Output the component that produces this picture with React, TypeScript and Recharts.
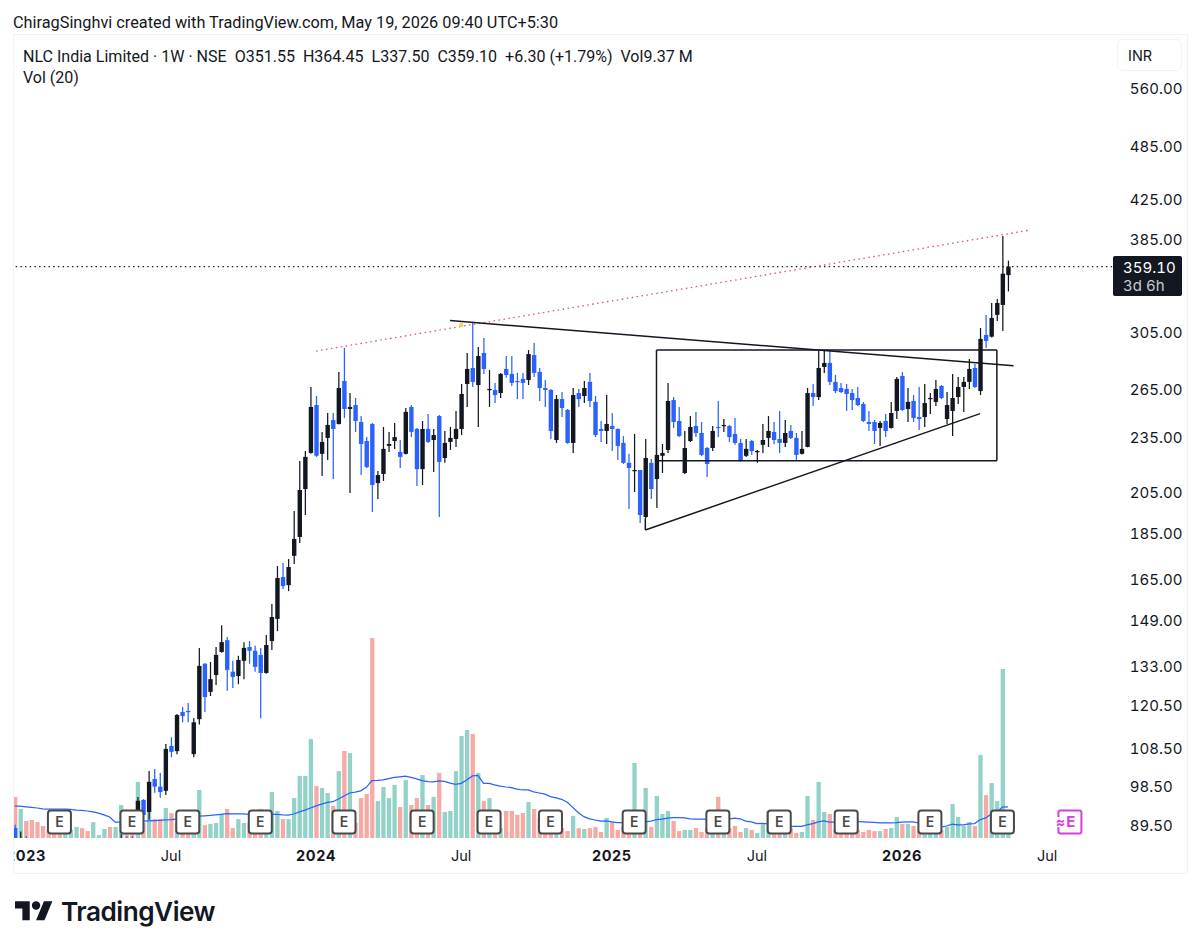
import { ComposedChart, Bar, Line, Cell, XAxis, YAxis, ReferenceLine, ReferenceDot } from "recharts";

const TOTAL_SLOTS = 198;

// weekly candles, the first 22 sit below the visible price range
const opens = [
  88.8, 83, 84, 80, 78, 77, 76, 75, 75, 73, 75, 76, 79, 77, 76, 79, 80, 82, 80, 83, 86, 85,
  89.5, 95.2, 92.4, 100.3, 98.4, 97.4, 108.9, 107.5, 118.5, 118.8,
  106.7, 116.4, 133.6, 124.6, 129.9, 137.6, 141.7, 131.0, 129.6, 134.6,
  139.3, 138.0, 136.6, 130.6, 141.4, 149.4, 165.8, 162.5, 174.8, 183.2,
  206.4, 225.8, 254.4, 225.3, 234.4, 245.1, 242.7, 270.1, 251.9, 254.4,
  243.9, 232.6, 242.7, 209.5, 214.3, 229.8, 232.6, 226.4, 225.3, 253.2,
  239.7, 216.9, 239.7, 233.2, 247.5, 223.0, 232.1, 233.8, 239.7, 268.1,
  279.0, 267.4, 289.6, 264.1, 264.1, 262.1, 278.3, 274.9, 270.1, 271.5,
  270.8, 288.1, 276.2, 265.4, 264.1, 233.2, 258.2, 251.3, 231.5, 262.1,
  260.2, 269.5, 256.4, 239.7, 238.5, 241.5, 239.7, 231.5, 220.3, 215.9,
  216.4, 192.5, 220.3, 211.6, 224.2, 227.5, 257.6, 244.5, 214.8, 232.6,
  241.5, 237.3, 228.6, 228.6, 240.9, 241.5, 241.5, 236.7, 231.5, 224.2,
  232.6, 226.4, 230.4, 234.4, 237.9, 233.8, 231.5, 238.5, 234.4, 225.3,
  229.2, 262.1, 259.5, 279.7, 282.5, 269.5, 265.4, 264.8, 262.1, 258.9,
  255.1, 243.9, 243.9, 240.3, 244.5, 240.3, 250.7, 273.5, 251.9, 257.0,
  246.9, 246.9, 258.2, 256.4, 266.8, 245.7, 250.7, 259.5, 266.1, 269.5,
  279.0, 263.4, 302.9, 301.6, 318.4, 326.4, 351.55,
];
const highs = [
  89.5, 88, 87, 82, 80, 79, 78, 78, 77, 77, 78, 80, 81, 79, 80, 81, 83, 84, 85, 87.4, 87, 87,
  95.9, 95.4, 102.3, 102.8, 101.8, 109.4, 111.3, 117.9, 120.0, 121.2,
  116.7, 139.0, 133.9, 134.2, 139.3, 147.1, 142.8, 134.6, 136.3, 141.0,
  141.4, 139.7, 139.0, 143.5, 155.0, 170.4, 171.7, 173.4, 195.4, 221.3,
  226.9, 266.1, 260.2, 237.9, 249.4, 249.4, 276.2, 293.2, 262.1, 258.9,
  247.5, 234.9, 243.3, 215.9, 240.9, 237.9, 243.3, 233.2, 252.5, 254.4,
  240.3, 244.5, 248.8, 239.7, 248.2, 238.5, 240.9, 250.7, 268.1, 289.6,
  312.0, 294.0, 300.6, 277.6, 268.8, 275.6, 287.4, 287.4, 275.6, 275.6,
  291.7, 296.9, 279.0, 270.8, 264.8, 260.8, 262.8, 251.9, 265.4, 264.8,
  270.1, 275.6, 260.2, 244.5, 260.8, 249.4, 240.0, 235.5, 225.3, 236.7,
  216.4, 233.8, 222.4, 224.7, 230.9, 268.8, 259.5, 253.2, 238.5, 247.5,
  250.1, 243.9, 229.2, 241.5, 257.0, 245.7, 242.1, 246.3, 233.8, 233.8,
  233.2, 227.5, 242.7, 247.5, 243.9, 250.7, 245.1, 242.1, 237.3, 238.5,
  265.4, 268.1, 291.0, 291.0, 291.7, 274.2, 268.8, 268.1, 264.8, 266.1,
  256.4, 250.7, 245.1, 244.5, 248.8, 256.4, 272.8, 276.2, 265.4, 260.8,
  266.1, 268.1, 262.1, 270.8, 267.4, 262.8, 274.9, 272.8, 272.8, 285.3,
  281.8, 308.2, 318.4, 328.0, 331.2, 387.5, 364.45,
];
const lows = [
  83, 81, 80, 76, 75, 74, 73, 73, 72, 72, 74, 75, 76, 75, 75, 78, 79, 79, 79, 82, 82, 82,
  88.4, 90.6, 90.6, 96.9, 95.7, 96.4, 105.9, 106.7, 115.5, 115.5,
  105.9, 114.9, 118.5, 123.3, 126.7, 137.3, 124.9, 125.8, 127.0, 128.6,
  133.6, 131.0, 116.7, 130.3, 138.3, 144.9, 160.9, 160.1, 171.3, 180.5,
  193.5, 225.3, 223.6, 213.2, 221.9, 211.6, 242.4, 246.3, 204.4, 237.9,
  213.7, 217.5, 194.9, 201.4, 210.6, 226.4, 228.1, 217.5, 225.0, 234.9,
  208.0, 208.5, 231.5, 215.3, 192.5, 220.3, 227.5, 229.2, 236.1, 253.2,
  266.1, 240.9, 274.9, 253.2, 255.7, 258.9, 272.2, 266.8, 258.2, 258.2,
  267.4, 272.8, 257.0, 253.2, 233.8, 231.5, 246.9, 231.0, 225.8, 253.2,
  255.7, 253.2, 234.9, 232.1, 230.9, 226.9, 221.9, 219.7, 196.4, 204.9,
  189.7, 192.0, 201.4, 196.9, 214.8, 225.8, 240.3, 234.9, 214.3, 232.0,
  234.9, 224.0, 212.7, 226.9, 234.9, 237.9, 232.1, 230.4, 221.0, 223.6,
  224.7, 220.3, 225.8, 229.2, 230.9, 225.8, 229.2, 233.8, 221.3, 225.0,
  229.0, 253.8, 257.6, 275.6, 267.4, 262.1, 262.1, 250.7, 251.3, 253.8,
  243.9, 238.5, 230.9, 229.8, 234.9, 240.0, 245.7, 250.7, 243.9, 243.9,
  239.1, 240.9, 248.8, 253.8, 258.2, 242.7, 235.5, 255.1, 250.1, 264.8,
  265.4, 260.8, 293.2, 300.9, 313.6, 305.8, 337.5,
];
const closes = [
  85, 85, 82, 77, 76, 75, 74, 74, 73, 76, 77, 79, 77, 76, 79, 80, 82, 80, 84, 86, 83, 83,
  95.0, 91.7, 99.6, 98.4, 97.1, 108.1, 107.3, 117.6, 117.3, 118.5,
  115.5, 132.9, 123.0, 128.6, 136.6, 141.0, 131.6, 129.3, 134.9, 139.0,
  138.0, 132.6, 130.6, 140.0, 150.1, 165.4, 162.1, 170.0, 182.3, 205.9,
  223.6, 253.2, 224.2, 232.1, 242.1, 239.7, 265.4, 251.9, 253.2, 244.5,
  230.9, 218.0, 208.5, 213.7, 228.1, 230.9, 234.9, 223.6, 250.1, 237.9,
  216.9, 239.7, 232.1, 236.1, 220.8, 231.5, 234.4, 239.7, 261.5, 278.3,
  269.5, 287.4, 278.3, 264.8, 260.8, 274.9, 274.2, 268.8, 269.5, 268.8,
  288.8, 275.6, 265.4, 264.1, 238.5, 258.2, 252.5, 231.5, 260.8, 258.2,
  265.4, 257.0, 236.1, 238.5, 242.7, 239.7, 229.8, 220.3, 217.5, 216.4,
  193.5, 223.0, 206.4, 224.7, 225.8, 257.0, 243.9, 235.5, 228.6, 240.9,
  237.3, 224.7, 219.7, 238.5, 240.3, 242.1, 234.9, 231.5, 221.3, 228.1,
  226.9, 226.9, 233.2, 238.5, 233.2, 231.5, 237.3, 234.4, 224.7, 228.1,
  262.1, 259.5, 279.0, 282.5, 269.5, 263.4, 262.8, 261.5, 257.6, 254.4,
  244.5, 242.7, 238.5, 243.3, 238.5, 249.4, 271.5, 251.3, 256.4, 246.3,
  245.7, 255.7, 258.9, 264.8, 258.9, 254.4, 258.9, 266.1, 269.5, 278.3,
  266.1, 299.9, 298.4, 316.0, 328.0, 352.8, 359.1,
];

// volume in millions
const volumes = [
  13.7, 9.7, 5.7, 6, 5.3, 4, 2.7, 2.7, 2.7, 3.3, 2.7, 3.7, 3.3, 2.3, 5.3, 1, 3, 3.7, 3.7, 11,
  4, 3.3, 18.7, 5, 9, 6.3, 6.3, 10, 8.3, 5, 4, 4, 5, 16, 4.3, 4.7, 5, 8, 9.7, 3.3,
  6.3, 5, 5, 5, 9.7, 5, 15.3, 9, 6.3, 6.3, 13.3, 20.7, 20.7, 33, 17.3, 16.7, 15, 10.7, 22.3, 29,
  28.3, 5, 13.3, 14.7, 66.7, 12.3, 17, 13.3, 17.7, 10.3, 19.3, 11, 13.3, 21, 11, 13.7, 21.7, 8.7, 9, 22.3,
  34, 36, 34.7, 21.7, 12.3, 13.3, 6.7, 3.3, 9, 9, 7.7, 8.3, 12, 9.7, 6.7, 5, 4, 3.3, 3.3, 2.3,
  7.3, 3.3, 3, 3.3, 3.7, 2, 6.7, 5.3, 2.7, 4, 4, 25, 3.3, 16.7, 3.7, 14, 8, 9, 5.7, 2.3,
  2.7, 2.7, 3.3, 2, 3.3, 3.3, 13.7, 3.3, 3.3, 4, 2, 3.3, 2.7, 1.7, 5, 9, 2.7, 2.7, 2.7, 3.3,
  1.7, 2, 14, 6, 18.7, 8.7, 8, 2.7, 2.7, 2.7, 2.7, 2.7, 2, 2.7, 2.3, 2.3, 3, 3.3, 7, 4.7,
  4.7, 4, 2.7, 2.7, 2.7, 2.7, 2.7, 3.7, 11.3, 7, 4, 5.3, 4, 27.7, 14.3, 18.3, 12.3, 56.3, 9.37,
];
const volumeMa = [
  10.6, 10.6, 10.4, 10.2, 10, 9.7, 9.6, 9.6, 9.6, 9.6, 9.5, 9.3, 9.2, 9, 8.7, 8.3, 7.7, 7, 5.3, 5.3,
  5.3, 5.3, 5.3, 5.6, 5.7, 5.8, 5.9, 6, 6.1, 6.3, 6.5, 6.7, 7, 7.3, 7.4, 7.5, 7.7, 7.9, 8.1, 8,
  8, 8, 7.9, 7.8, 7.8, 7.8, 7.9, 7.9, 7.7, 7.6, 8, 8.7, 9.3, 10, 10.7, 11.3, 11.9, 12.1, 13, 14,
  15, 15.3, 15.7, 16.9, 19.1, 19.2, 19.4, 19.8, 20.2, 20.4, 20.6, 20.2, 19.7, 19.1, 18.8, 18.7, 19, 18.9, 18.3, 17.9,
  18.2, 19.3, 20.7, 20.9, 18.2, 18.2, 17.7, 17.3, 17, 16.8, 16.3, 16, 16, 15.4, 15, 14.6, 13.8, 13.4, 12.9, 11.9,
  10.2, 8.4, 7.1, 6.4, 6, 5.6, 5.7, 5.4, 5.1, 5.1, 5.1, 5.1, 5.2, 5.4, 5.6, 6.1, 6.3, 6.6, 6.8, 6.8,
  6.7, 6.4, 6.3, 6.3, 6.3, 6.3, 6.3, 6.3, 6.3, 6.6, 6.4, 5.6, 5.4, 4.8, 4.9, 4.7, 4.3, 4.2, 4, 3.9,
  3.9, 3.9, 4.4, 4.8, 5.4, 5.7, 5.3, 5.3, 5.3, 5.3, 5.5, 5.5, 5.4, 5.3, 5.2, 5, 5, 5, 5.1, 5.3,
  5.4, 5.4, 5, 4.7, 4.3, 4, 3.6, 4, 4.6, 4.4, 4.4, 4.7, 4.8, 6.1, 6.7, 8, 8.6, 10.3, 10.4,
];

const priceTicks = [560, 485, 425, 385, 305, 265, 235, 205, 185, 165, 149, 133, 120.5, 108.5, 98.5, 89.5];
const timeTicks = [2, 28, 54, 80, 107, 133, 159, 185];
const timeLabels = ["2023", "Jul", "2024", "Jul", "2025", "Jul", "2026", "Jul"];
const earningsSlots = [8, 21, 31, 44, 59, 73, 85, 96, 111, 126, 137, 149, 164, 177];
const nextEarningsSlot = 189;

// drawings: [slot, price] pairs
const resistance = [[54, 291.0], [182, 393.3]];
const upperTrend = [[78, 313.9], [179, 280.6]];
const lowerTrend = [[113, 192.0], [113, 186.4], [173, 249.0]];
const rangeBox = [[115, 291.7], [176, 291.7], [176, 221.5], [115, 221.5], [115, 291.7]];

const rows = Array.from({ length: TOTAL_SLOTS }, (_, i) => ({
  slot: i,
  range: i < opens.length ? [lows[i], highs[i]] : null,
  open: opens[i],
  high: highs[i],
  low: lows[i],
  close: closes[i],
  volume: volumes[i],
  ma: volumeMa[i],
}));

const UP = "#131722";
const DOWN = "#2962ff";

function Candle(props: any) {
  const { x, y, width, height, payload } = props;
  if (!payload || payload.high == null) return null;
  const { open, high, low, close } = payload;
  const pxPerLog = height / Math.log(high / low);
  const toY = (v: number) => y + Math.log(high / v) * pxPerLog;
  const color = close >= open ? UP : DOWN;
  const bodyTop = toY(Math.max(open, close));
  const bodyBottom = toY(Math.min(open, close));
  const mid = x + width / 2;
  return (
    <g>
      <line x1={mid} x2={mid} y1={y} y2={y + height} stroke={color} strokeWidth={1.25} />
      <rect x={x} y={bodyTop} width={width} height={Math.max(bodyBottom - bodyTop, 1.2)} fill={color} />
    </g>
  );
}

function EarningsMark(props: any) {
  const { cx, cy } = props;
  return (
    <g>
      <rect x={cx - 11.5} y={cy - 11.5} width={23} height={23} rx={3} fill="#fff" stroke="#4a4a4a" strokeWidth={2} />
      <text x={cx} y={cy + 1} textAnchor="middle" dominantBaseline="middle" fontFamily="Inter" fontSize={14} fontWeight={600} fill="#4a4a4a">
        E
      </text>
    </g>
  );
}

function NextEarningsMark(props: any) {
  const { cx, cy } = props;
  return (
    <g>
      <rect x={cx - 11} y={cy - 11.5} width={23} height={23} rx={2} fill="#fff" stroke="#d63ee0" strokeWidth={2} />
      <rect x={cx - 14} y={cy - 5} width={6} height={10} fill="#fff" />
      <text x={cx - 9} y={cy + 1} textAnchor="middle" dominantBaseline="middle" fontFamily="Inter" fontSize={14} fontWeight={700} fill="#d63ee0">
        ≈
      </text>
      <text x={cx + 1.5} y={cy + 1} textAnchor="middle" dominantBaseline="middle" fontFamily="Inter" fontSize={15} fontWeight={700} fill="#d63ee0">
        E
      </text>
    </g>
  );
}

function TimeTick(props: any) {
  const { x, payload } = props;
  const label = timeLabels[timeTicks.indexOf(payload.value)];
  const isYear = label !== "Jul";
  return (
    <text x={x} y={822} textAnchor="middle" dominantBaseline="middle" fontFamily="Inter" fontSize={14.5} fontWeight={isYear ? 700 : 400} letterSpacing={isYear ? 0.6 : 0} fill="#131722">
      {label}
    </text>
  );
}

function PriceTick(props: any) {
  const { x, y, payload } = props;
  return (
    <text x={x} y={y + 2} textAnchor="start" dominantBaseline="middle" fontFamily="Inter" fontSize={15} fill="#131722" style={{ fontVariantNumeric: "tabular-nums" }}>
      {payload.value.toFixed(2)}
    </text>
  );
}

function segments(points: number[][]) {
  return points.slice(1).map((p, i) => [
    { x: points[i][0], y: points[i][1] },
    { x: p[0], y: p[1] },
  ]);
}

const textStyle = { position: "absolute", fontFamily: "Roboto", color: "#131722", whiteSpace: "pre" } as const;

export default function App() {
  return (
    <div style={{ position: "absolute", left: 0, top: 0, width: 1200, height: 949, background: "#fff", overflow: "hidden" }}>
      <div style={{ ...textStyle, left: 13, top: 13, fontSize: 16.3, lineHeight: "20px" }}>
        ChiragSinghvi created with TradingView.com, May 19, 2026 09:40 UTC+5:30
      </div>
      <div style={{ position: "absolute", left: 13, top: 34, width: 1175, height: 840, boxSizing: "border-box", border: "1px solid #f0f3fa", overflow: "hidden" }}>
        <div style={{ position: "absolute", left: -2.5, top: 0 }}>
          <ComposedChart width={1175.84} height={838} data={rows} margin={{ top: 0, right: 0, bottom: 0, left: 0 }}>
            <XAxis xAxisId="time" dataKey="slot" height={35} ticks={timeTicks} interval={0} axisLine={false} tickLine={false} tick={<TimeTick />} />
            <XAxis xAxisId="price" dataKey="slot" hide />
            <YAxis yAxisId="price" orientation="right" width={71} scale="log" domain={[86.6, 639]} allowDataOverflow ticks={priceTicks} interval={0} axisLine={false} tickLine={false} tickMargin={7} tick={<PriceTick />} />
            <YAxis yAxisId="vol" hide domain={[0, 267.67]} allowDataOverflow />

            <Bar xAxisId="time" yAxisId="vol" dataKey="volume" barSize={4.3} isAnimationActive={false}>
              {rows.map((r) => (
                <Cell key={r.slot} fill={r.close >= r.open ? "#92d2c8" : "#f7a9a6"} />
              ))}
            </Bar>
            <Line xAxisId="time" yAxisId="vol" dataKey="ma" stroke="#2962ff" strokeWidth={1.25} dot={false} isAnimationActive={false} />
            <Bar xAxisId="price" yAxisId="price" dataKey="range" barSize={4.4} shape={<Candle />} isAnimationActive={false} />

            <ReferenceLine xAxisId="time" yAxisId="price" y={359.1} stroke="#131722" strokeWidth={1.3} strokeDasharray="1.4 3.3" />
            {segments(resistance).map((s, i) => (
              <ReferenceLine key={"r" + i} xAxisId="time" yAxisId="price" segment={s} stroke="#d9536c" strokeWidth={1.3} strokeDasharray="1.5 3.5" />
            ))}
            {[...segments(upperTrend), ...segments(lowerTrend), ...segments(rangeBox)].map((s, i) => (
              <ReferenceLine key={"d" + i} xAxisId="time" yAxisId="price" segment={s} stroke="#131722" strokeWidth={1.5} />
            ))}
            <ReferenceDot xAxisId="time" yAxisId="price" x={80} y={310.5} r={2.2} fill="#f7d84a" stroke="none" />
            {earningsSlots.map((s) => (
              <ReferenceDot key={s} xAxisId="time" yAxisId="vol" x={s} y={5.3} shape={<EarningsMark />} />
            ))}
            <ReferenceDot xAxisId="time" yAxisId="vol" x={nextEarningsSlot} y={5.3} shape={<NextEarningsMark />} />
          </ComposedChart>
        </div>
      </div>

      <div style={{ ...textStyle, left: 23, top: 47, fontSize: 16.05, lineHeight: "20px" }}>
        {"NLC India Limited · 1W · NSE  O351.55  H364.45  L337.50  C359.10  +6.30 (+1.79%)  Vol9.37 M"}
      </div>
      <div style={{ ...textStyle, left: 23, top: 68, fontSize: 16.05, lineHeight: "20px" }}>Vol (20)</div>

      <div style={{ position: "absolute", left: 1117, top: 39, width: 65, height: 32, boxSizing: "border-box", border: "1px solid #f0f3fa", borderRadius: 6, background: "#fff", fontFamily: "Inter", fontSize: 14.5, lineHeight: "32px", paddingLeft: 10, color: "#131722" }}>
        INR
      </div>
      <div style={{ position: "absolute", left: 1113, top: 256, width: 69, height: 40, borderRadius: 2, background: "#131722", fontFamily: "Inter", fontSize: 15, paddingLeft: 10, boxSizing: "border-box", fontVariantNumeric: "tabular-nums" }}>
        <div style={{ color: "#fff", lineHeight: "19px", marginTop: 2 }}>359.10</div>
        <div style={{ color: "#c8cad0", lineHeight: "17px" }}>3d 6h</div>
      </div>

      <svg style={{ position: "absolute", left: 15, top: 897 }} width={40} height={28} viewBox="0 0 38 26.6">
        <path d="M14 22H7V11H0V4h14v18zM28 22h-8l7.5-18h8L28 22z" fill="#131722" />
        <circle cx="20" cy="8" r="4" fill="#131722" />
      </svg>
      <div style={{ position: "absolute", left: 61, top: 894, fontFamily: "Inter", fontSize: 26.2, fontWeight: 600, lineHeight: "36px", letterSpacing: -0.5, color: "#131722" }}>
        TradingView
      </div>
    </div>
  );
}
